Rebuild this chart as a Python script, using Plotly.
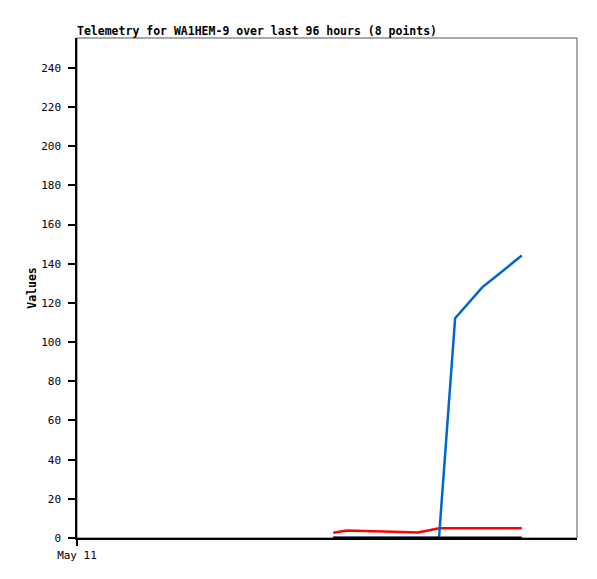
import plotly.graph_objects as go
from datetime import datetime, timedelta

start = datetime(2024, 5, 11, 0, 0)
hours = [49.2, 51.8, 58.8, 65.5, 69.5, 72.6, 77.8, 85.4]
times = [start + timedelta(hours=h) for h in hours]
red_vals = [2.7, 3.8, 3.3, 2.8, 5.0, 5.0, 5.0, 5.0]
blue_vals = [0, 0, 0, 0, 0, 112.2, 128.0, 144.2]
black_vals = [0.4, 0.4, 0.4, 0.4, 0.4, 0.4, 0.4, 0.4]
y_ticks = list(range(0, 241, 20))
x_tick_vals = [start]
x_tick_text = ["May 11"]
title = "Telemetry for WA1HEM-9 over last 96 hours (8 points)"

font = "DejaVu Sans Mono"
fig = go.Figure()
fig.add_trace(go.Scatter(x=times, y=red_vals, mode="lines",
                         line=dict(color="#ff0000", width=2.5), showlegend=False))
fig.add_trace(go.Scatter(x=times, y=blue_vals, mode="lines",
                         line=dict(color="#0066cc", width=2.5), showlegend=False))
fig.add_trace(go.Scatter(x=times, y=black_vals, mode="lines",
                         line=dict(color="#000000", width=1.5), showlegend=False))

fig.update_layout(
    width=597, height=579,
    margin=dict(l=77, r=20, t=38, b=41),
    paper_bgcolor="white", plot_bgcolor="white",
    font=dict(family=font, size=11, color="black"),
    title=dict(text="<b>" + title + "</b>", x=77 / 597, xanchor="left",
               y=1 - 35 / 579, yanchor="bottom", font=dict(family=font, size=11.5)),
    xaxis=dict(range=[start, start + timedelta(hours=96)], tickvals=x_tick_vals,
               ticktext=x_tick_text, showgrid=False, zeroline=False,
               showline=True, linecolor="black", linewidth=1.5,
               ticks="outside", ticklen=6, tickcolor="black", tickwidth=1.5,
               tickfont=dict(family=font, size=11)),
    yaxis=dict(range=[0, 255.3], tickvals=y_ticks, showgrid=False, zeroline=False,
               showline=True, linecolor="black", linewidth=1.5,
               ticks="outside", ticklen=7, tickcolor="black", tickwidth=1.5,
               ticklabelstandoff=5,
               tickfont=dict(family=font, size=11),
               title=dict(text="<b>Values</b>", font=dict(family=font, size=11.5), standoff=2)),
    shapes=[dict(type="rect", xref="paper", yref="paper", x0=0, x1=1, y0=0, y1=1,
                 line=dict(color="#555555", width=1), layer="below")],
)
fig.write_html("out.html", config={"displayModeBar": False})

with open("out.html", "r", encoding="utf-8") as f:
    html = f.read()
html = html.replace("<body>", '<body style="margin:0;padding:0;">', 1)
html = html.replace("<head>", '<head><style>html,body{margin:0;padding:0;}</style>', 1)
with open("out.html", "w", encoding="utf-8") as f:
    f.write(html)
